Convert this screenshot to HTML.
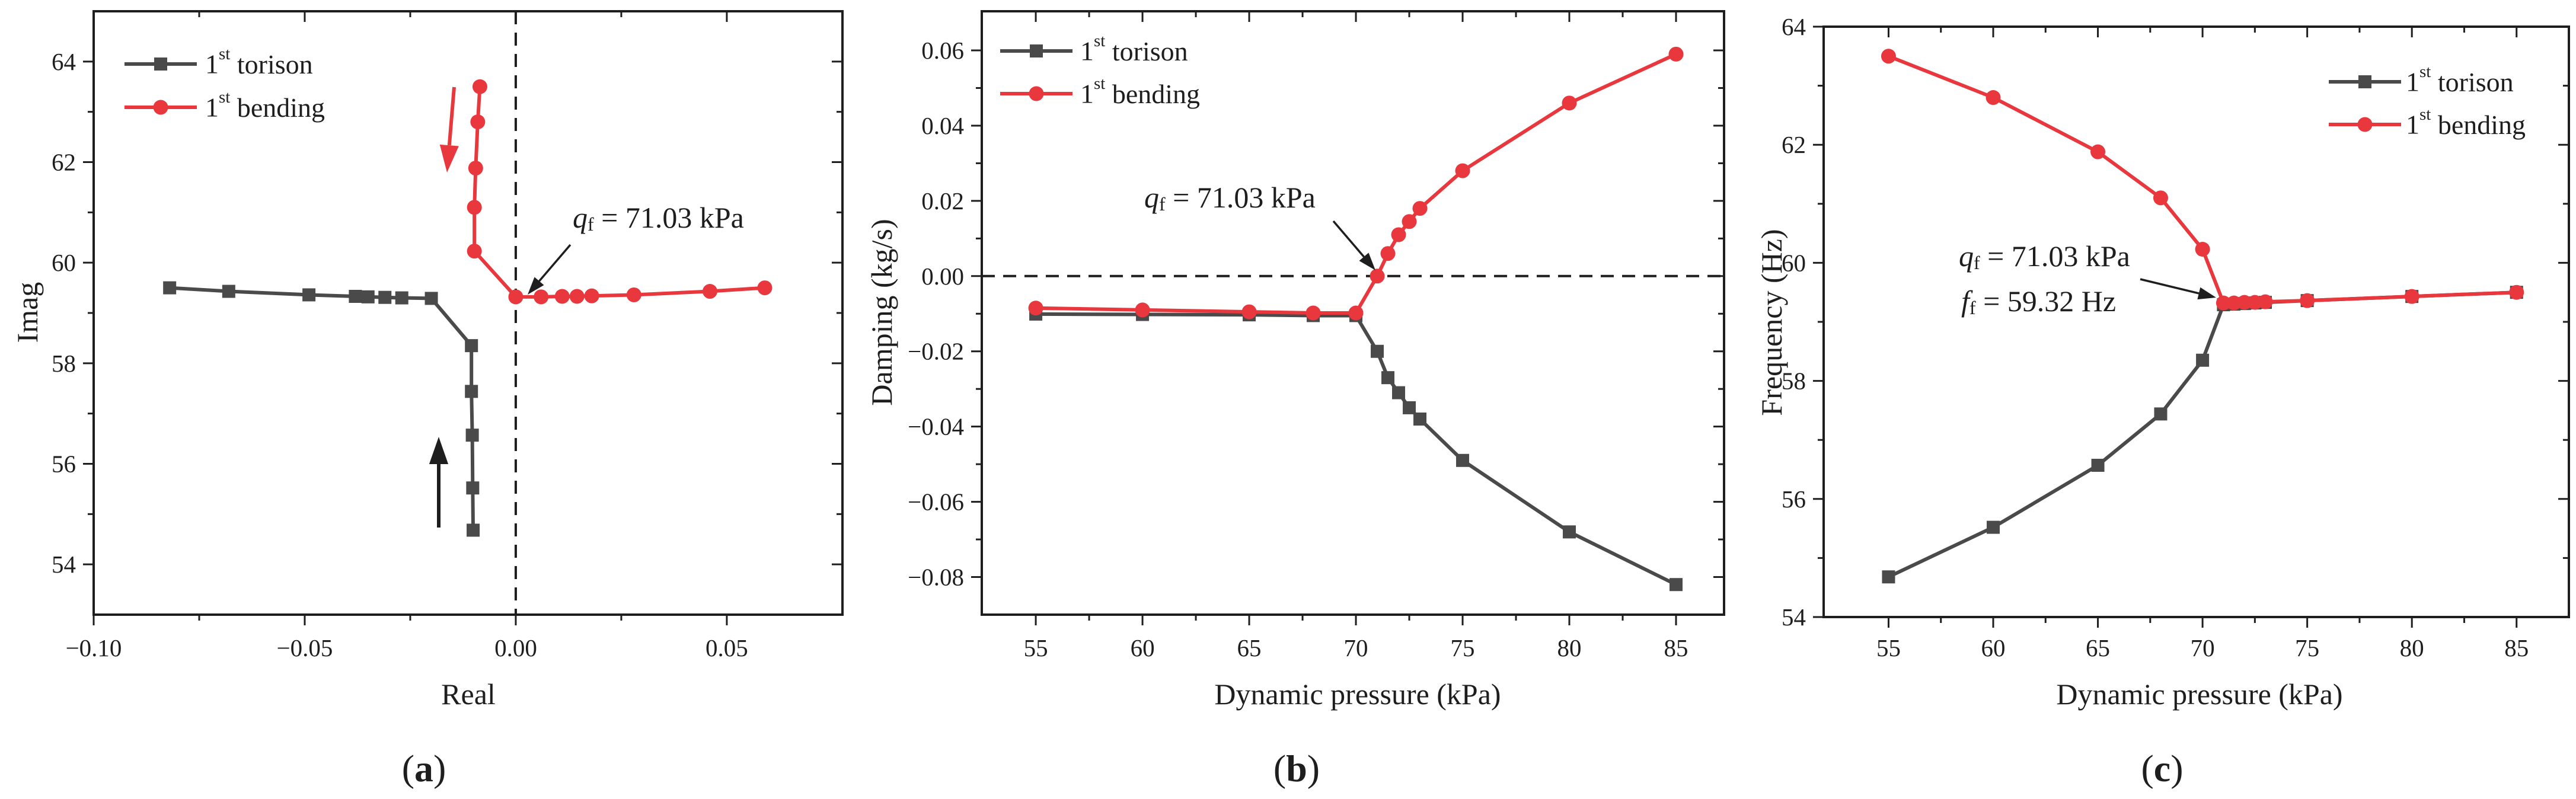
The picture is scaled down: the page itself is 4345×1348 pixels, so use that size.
<!DOCTYPE html>
<html><head><meta charset="utf-8">
<style>
html,body{margin:0;padding:0;background:#fff;}
svg{display:block;font-family:"Liberation Serif",serif;}
</style></head>
<body>
<svg id="fig" width="4345" height="1348" viewBox="0 0 4345 1348" xmlns="http://www.w3.org/2000/svg"></svg>
<script>
const pressure = [55, 60, 65, 68, 70, 71, 71.5, 72, 72.5, 73, 75, 80, 85];
const torsionDamping = [-0.0101, -0.0102, -0.0103, -0.0105, -0.0105, -0.020, -0.027, -0.031, -0.035, -0.038, -0.049, -0.068, -0.082];
const torsionFreq = [54.68, 55.52, 56.57, 57.44, 58.35, 59.29, 59.30, 59.31, 59.32, 59.33, 59.36, 59.43, 59.50];
const bendingDamping = [-0.0085, -0.0090, -0.0095, -0.0098, -0.0098, 0.0, 0.006, 0.011, 0.0145, 0.018, 0.028, 0.046, 0.059];
const bendingFreq = [63.50, 62.80, 61.88, 61.10, 60.23, 59.32, 59.32, 59.33, 59.33, 59.34, 59.36, 59.43, 59.50];
const xTicksA = [-0.10, -0.05, 0.00, 0.05];
const xTickLabelsA = ["\u22120.10", "\u22120.05", "0.00", "0.05"];
const yTicksA = [54, 56, 58, 60, 62, 64];
const xTicksP = [55, 60, 65, 70, 75, 80, 85];
const yTicksB = [-0.08, -0.06, -0.04, -0.02, 0.00, 0.02, 0.04, 0.06];
const yTickLabelsB = ["\u22120.08", "\u22120.06", "\u22120.04", "\u22120.02", "0.00", "0.02", "0.04", "0.06"];
const yTicksC = [54, 56, 58, 60, 62, 64];

const NS = "http://www.w3.org/2000/svg";
const svg = document.getElementById("fig");
const GRAY = "#4a4a4a", RED = "#e8383d", INK = "#1e1e1e";

function mk(tag, attrs, parent) {
  const e = document.createElementNS(NS, tag);
  for (const k in attrs) e.setAttribute(k, attrs[k]);
  (parent || svg).appendChild(e);
  return e;
}
function txt(parent, x, y, s, size, extra) {
  const t = mk("text", Object.assign({x: x, y: y, "font-size": size, fill: INK, "dominant-baseline": "central"}, extra || {}), parent);
  t.textContent = s;
  return t;
}

function panel(cfg) {
  const g = mk("g", {});
  
  
  const L = cfg.left, R = cfg.right, T = cfg.top, B = cfg.bottom;
  const sx = v => L + (v - cfg.xmin) / (cfg.xmax - cfg.xmin) * (R - L);
  const sy = v => B - (v - cfg.ymin) / (cfg.ymax - cfg.ymin) * (B - T);
  cfg.sx = sx; cfg.sy = sy;

  const frame = mk("rect", {x: L, y: T, width: R - L, height: B - T, fill: "none", stroke: INK, "stroke-width": 4}, g);
  
  

  const xt = mk("g", {}, g);
  
  
  cfg.xTicks.forEach((v, i) => {
    const x = sx(v);
    mk("line", {x1: x, y1: B, x2: x, y2: B + 18, stroke: INK, "stroke-width": 3}, xt);
    mk("line", {x1: x, y1: T, x2: x, y2: T + 18, stroke: INK, "stroke-width": 3}, xt);
    const lab = txt(xt, x, 1093, cfg.xLabels ? cfg.xLabels[i] : String(v), 41, {"text-anchor": "middle"});
    
    
    if (i < cfg.xTicks.length - 1) {
      const m = sx((v + cfg.xTicks[i + 1]) / 2);
      mk("line", {x1: m, y1: B, x2: m, y2: B + 10, stroke: INK, "stroke-width": 3}, xt);
      mk("line", {x1: m, y1: T, x2: m, y2: T + 10, stroke: INK, "stroke-width": 3}, xt);
    }
  });
  const yt = mk("g", {}, g);
  
  
  cfg.yTicks.forEach((v, i) => {
    const y = sy(v);
    mk("line", {x1: L - 18, y1: y, x2: L, y2: y, stroke: INK, "stroke-width": 3}, yt);
    mk("line", {x1: R - 18, y1: y, x2: R, y2: y, stroke: INK, "stroke-width": 3}, yt);
    const lab = txt(yt, L - 30, y, cfg.yLabels ? cfg.yLabels[i] : String(v), 41, {"text-anchor": "end"});
    
    
    if (i < cfg.yTicks.length - 1) {
      const m = sy((v + cfg.yTicks[i + 1]) / 2);
      mk("line", {x1: L - 10, y1: m, x2: L, y2: m, stroke: INK, "stroke-width": 3}, yt);
      mk("line", {x1: R - 10, y1: m, x2: R, y2: m, stroke: INK, "stroke-width": 3}, yt);
    }
  });
  const xtl = txt(g, cfg.xTitleX, 1171, cfg.xTitle, 50, {"text-anchor": "middle"});
  
  
  const ytl = txt(g, 0, 0, cfg.yTitle, 50, {"text-anchor": "middle", transform: "translate(" + cfg.yTitleX + "," + cfg.yTitleY + ") rotate(-90)"});
  
  
  const cap = txt(g, cfg.capX, 1296, "", 64, {"text-anchor": "middle"});
  cap.innerHTML = '(<tspan font-weight="bold">' + cfg.cap + '</tspan>)';
  
  
  return g;
}

function series(g, cfg, xs, ys, color, marker, name) {
  const s = mk("g", {}, g);
  
  
  const pts = xs.map((x, i) => cfg.sx(x) + "," + cfg.sy(ys[i])).join(" ");
  mk("polyline", {points: pts, fill: "none", stroke: color, "stroke-width": 6, "stroke-linejoin": "round"}, s);
  xs.forEach((x, i) => {
    const px = cfg.sx(x), py = cfg.sy(ys[i]);
    let m;
    if (marker === "sq") m = mk("rect", {x: px - 11, y: py - 11, width: 22, height: 22, fill: color}, s);
    else m = mk("circle", {cx: px, cy: py, r: 12.5, fill: color}, s);
    
    
  });
}

function legend(g, x1, y1, y2, tx) {
  const lg = mk("g", {}, g);
  
  
  const items = [[y1, GRAY, "sq", "torison"], [y2, RED, "ci", "bending"]];
  items.forEach(it => {
    const e = mk("g", {}, lg);
    
    
    mk("line", {x1: x1, y1: it[0], x2: x1 + 122, y2: it[0], stroke: it[1], "stroke-width": 6}, e);
    const c = x1 + 61;
    if (it[2] === "sq") mk("rect", {x: c - 11, y: it[0] - 11, width: 22, height: 22, fill: it[1]}, e);
    else mk("circle", {cx: c, cy: it[0], r: 12.5, fill: it[1]}, e);
    const t = txt(e, tx, it[0], "", 46);
    t.innerHTML = '1<tspan font-size="29" dy="-17">st</tspan><tspan dy="17"> ' + it[3] + '</tspan>';
  });
}

function arrowLine(g, x1, y1, x2, y2, color, w, head, name) {
  const a = mk("g", {}, g);
  
  
  const ang = Math.atan2(y2 - y1, x2 - x1);
  const bx = x2 - head * Math.cos(ang), by = y2 - head * Math.sin(ang);
  mk("line", {x1: x1, y1: y1, x2: bx, y2: by, stroke: color, "stroke-width": w}, a);
  const hw = head * 0.35;
  const p = [[x2, y2], [bx + hw * Math.sin(ang), by - hw * Math.cos(ang)], [bx - hw * Math.sin(ang), by + hw * Math.cos(ang)]];
  mk("polygon", {points: p.map(q => q.join(",")).join(" "), fill: color}, a);
}

function qfText(g, x, y) {
  const t = txt(g, x, y, "", 50);
  t.innerHTML = '<tspan font-style="italic">q</tspan><tspan font-size="32" dy="11">f</tspan><tspan dy="-11"> = 71.03 kPa</tspan>';
  
  
}

const A = {name: "panel-a-root-locus", left: 158, right: 1421, top: 19, bottom: 1037, xmin: -0.1, xmax: 0.0774, ymin: 53, ymax: 65,
  xTicks: xTicksA, xLabels: xTickLabelsA, yTicks: yTicksA, xTitle: "Real", yTitle: "Imag", xTitleX: 790, yTitleX: 46, yTitleY: 527, cap: "a", capX: 715};
const gA = panel(A);
const dA = mk("line", {x1: A.sx(0), y1: A.top, x2: A.sx(0), y2: A.bottom, stroke: INK, "stroke-width": 4, "stroke-dasharray": "22,14"}, gA);


series(gA, A, torsionDamping, torsionFreq, GRAY, "sq", "torsion-series");
series(gA, A, bendingDamping, bendingFreq, RED, "ci", "bending-series");
legend(gA, 210, 108, 181, 346);
qfText(gA, 966, 367);
arrowLine(gA, 962, 413, 890, 497, INK, 3.5, 30, "flutter-arrow");
arrowLine(gA, 766, 147, 754, 291, RED, 6, 46, "bending-direction-arrow");
arrowLine(gA, 740, 890, 740, 737, INK, 6, 46, "torsion-direction-arrow");

const Bc = {name: "panel-b-damping", left: 1656, right: 2908, top: 19, bottom: 1037, xmin: 52.47, xmax: 87.25, ymin: -0.09, ymax: 0.0704,
  xTicks: xTicksP, yTicks: yTicksB, yLabels: yTickLabelsB, xTitle: "Dynamic pressure (kPa)", yTitle: "Damping (kg/s)", xTitleX: 2290, yTitleX: 1487, yTitleY: 527, cap: "b", capX: 2187};
const gB = panel(Bc);
const dB = mk("line", {x1: Bc.left, y1: Bc.sy(0), x2: Bc.right, y2: Bc.sy(0), stroke: INK, "stroke-width": 4, "stroke-dasharray": "22,14"}, gB);


series(gB, Bc, pressure, torsionDamping, GRAY, "sq", "torsion-series");
series(gB, Bc, pressure, bendingDamping, RED, "ci", "bending-series");
legend(gB, 1687, 86, 158, 1822);
qfText(gB, 1930, 333);
arrowLine(gB, 2249, 373, 2320, 456, INK, 3.5, 30, "flutter-arrow");

const C = {name: "panel-c-frequency", left: 3076, right: 4333, top: 45, bottom: 1041, xmin: 51.9, xmax: 87.5, ymin: 54, ymax: 64,
  xTicks: xTicksP, yTicks: yTicksC, xTitle: "Dynamic pressure (kPa)", yTitle: "Frequency (Hz)", xTitleX: 3710, yTitleX: 2988, yTitleY: 544, cap: "c", capX: 3647};
const gC = panel(C);
series(gC, C, pressure, torsionFreq, GRAY, "sq", "torsion-series");
series(gC, C, pressure, bendingFreq, RED, "ci", "bending-series");
legend(gC, 3928, 138, 210, 4058);
qfText(gC, 3304, 432);
const ff = txt(gC, 3308, 508, "", 50);
ff.innerHTML = '<tspan font-style="italic">f</tspan><tspan font-size="32" dy="11">f</tspan><tspan dy="-11"> = 59.32 Hz</tspan>';


arrowLine(gC, 3610, 471, 3738, 502, INK, 3.5, 30, "flutter-arrow");
</script>
</body></html>
